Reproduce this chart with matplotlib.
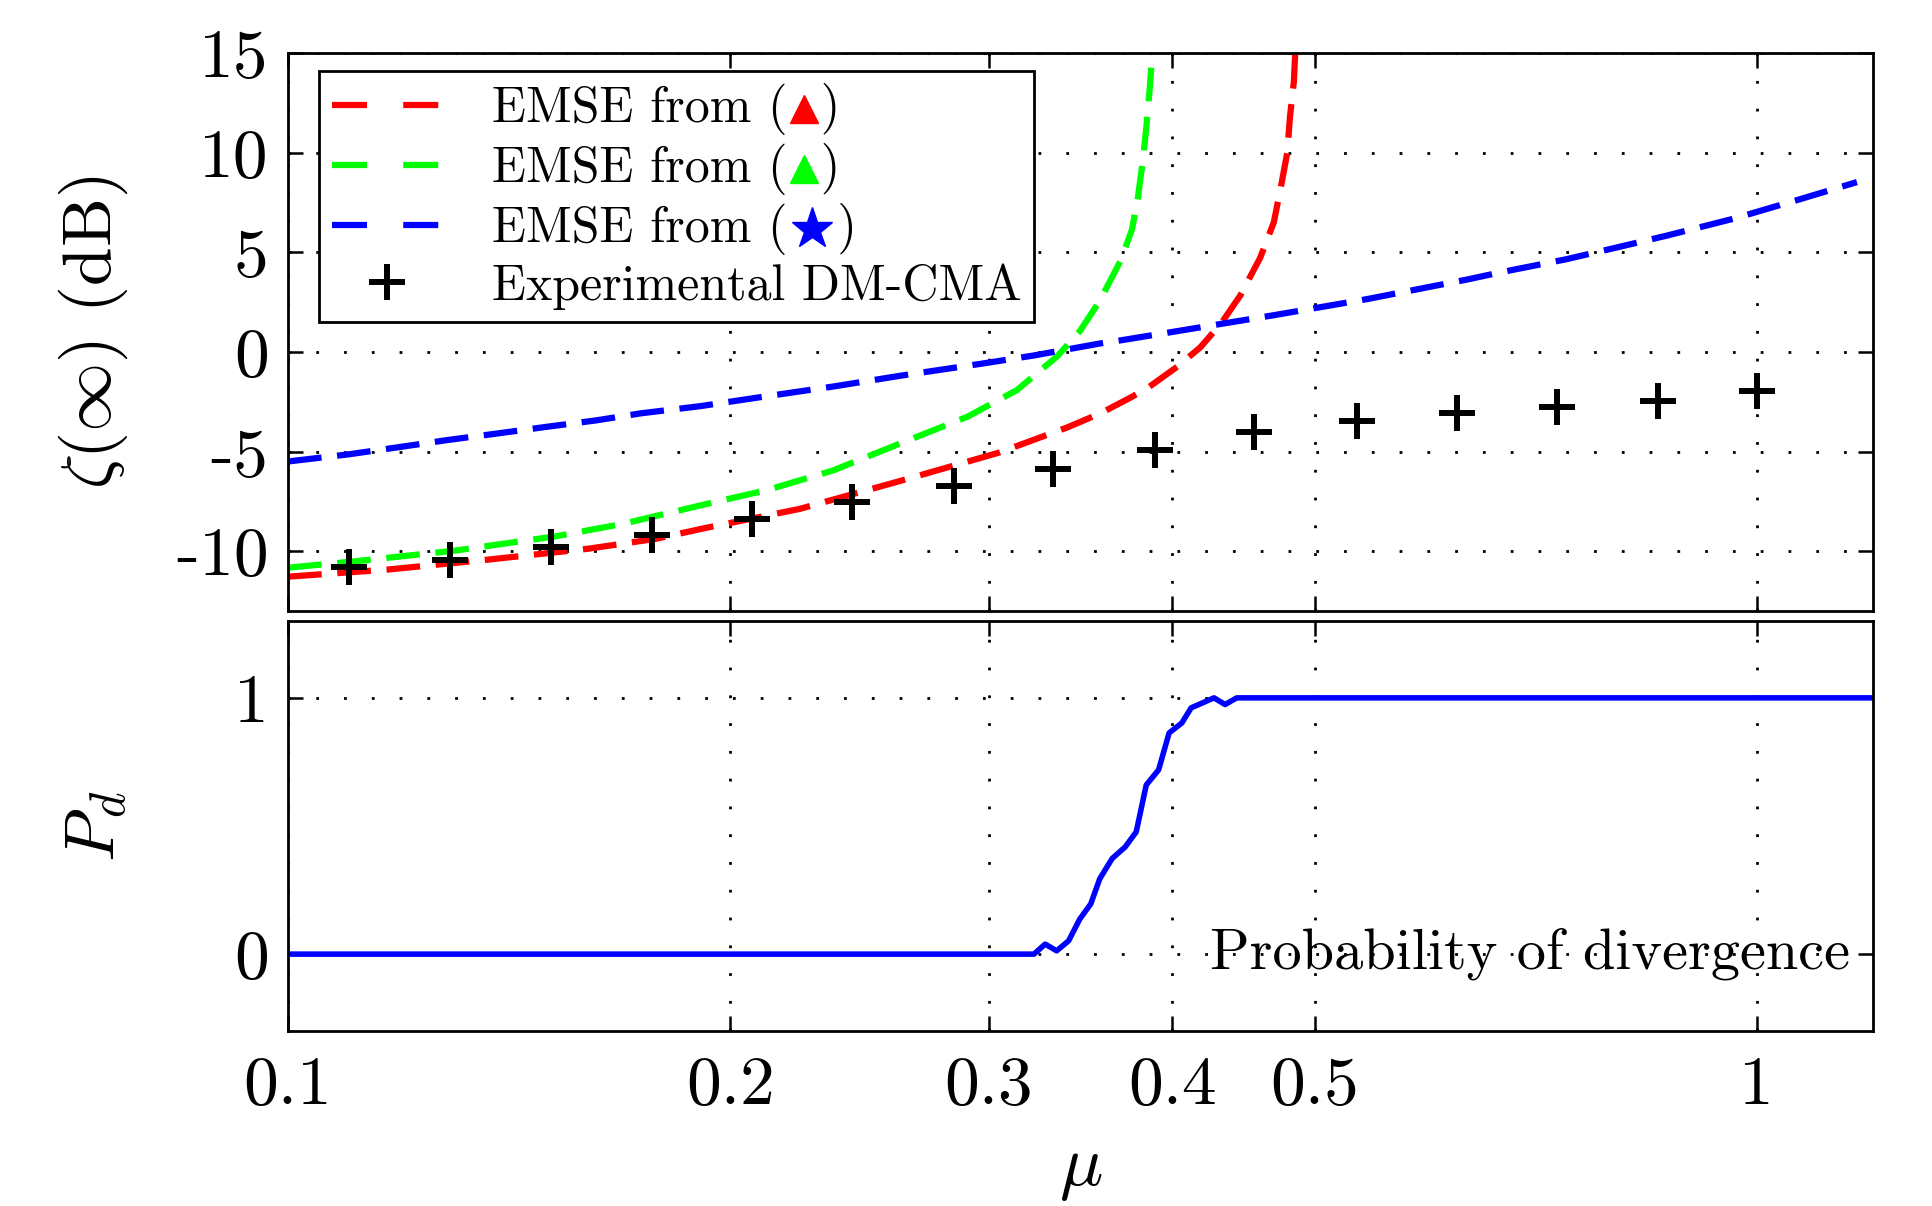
import matplotlib
matplotlib.use('Agg')
import matplotlib.pyplot as plt
from matplotlib.lines import Line2D
from matplotlib.ticker import NullLocator

plt.rcParams['font.family'] = ['cmr10', 'DejaVu Serif']
plt.rcParams['mathtext.fontset'] = 'cm'
plt.rcParams['axes.unicode_minus'] = False

# EMSE curves (mu, dB)
mu_red = [0.100, 0.117, 0.137, 0.160, 0.178, 0.192, 0.223, 0.261, 0.305, 0.339, 0.357,
          0.3745, 0.386, 0.403, 0.418, 0.432, 0.445, 0.459, 0.469, 0.474, 0.479, 0.481, 0.484, 0.485, 0.486]
emse_red = [-11.28, -10.92, -10.42, -9.88, -9.38, -8.85, -7.88, -6.48, -5.05, -3.80, -3.10,
            -2.30, -1.74, -0.75, 0.23, 1.45, 2.83, 4.71, 6.50, 8.20, 9.99, 11.78, 13.57, 15.0, 16.0]

mu_green = [0.100, 0.111, 0.130, 0.152, 0.169, 0.191, 0.212, 0.235, 0.261, 0.290, 0.3135,
            0.334, 0.346, 0.357, 0.369, 0.3755, 0.379, 0.382, 0.384, 0.386, 0.3875, 0.389]
emse_green = [-10.83, -10.51, -9.97, -9.26, -8.63, -7.70, -6.93, -5.95, -4.60, -3.26, -1.92,
              -0.22, 1.04, 2.56, 4.6, 6.14, 7.75, 9.63, 11.24, 13.12, 14.82, 16.5]

mu_blue = [0.100, 0.110, 0.119, 0.1285, 0.138, 0.150, 0.162, 0.174, 0.191, 0.212, 0.235,
           0.261, 0.298, 0.322, 0.357, 0.369, 0.403, 0.469, 0.543, 0.635, 0.669, 0.742,
           0.803, 0.868, 0.964, 1.070, 1.170]
emse_blue = [-5.50, -5.14, -4.78, -4.42, -4.12, -3.76, -3.44, -3.08, -2.72, -2.22, -1.74,
             -1.20, -0.57, -0.18, 0.42, 0.58, 1.04, 1.84, 2.65, 3.63, 3.99, 4.65,
             5.24, 5.83, 6.68, 7.66, 8.52]

# experimental DM-CMA points
mu_exp = [0.110, 0.129, 0.151, 0.177, 0.207, 0.242, 0.284, 0.332, 0.389, 0.455, 0.534,
          0.625, 0.731, 0.857, 1.000]
emse_exp = [-10.78, -10.43, -9.80, -9.18, -8.38, -7.52, -6.72, -5.87, -4.91, -4.04, -3.45,
            -3.09, -2.78, -2.45, -1.97]

# probability of divergence
mu_pd = [0.100, 0.322, 0.3277, 0.3337, 0.340, 0.346, 0.352, 0.357, 0.364, 0.3715, 0.378,
         0.384, 0.3915, 0.398, 0.406, 0.412, 0.427, 0.4345, 0.4425, 1.200]
pd = [0, 0, 0.039, 0.013, 0.052, 0.137, 0.196, 0.294, 0.373, 0.418, 0.477,
      0.660, 0.719, 0.863, 0.902, 0.961, 1.0, 0.974, 1.0, 1.0]

xticks = [0.1, 0.2, 0.3, 0.4, 0.5, 1]
xticklabels = ['0.1', '0.2', '0.3', '0.4', '0.5', '1']

fig = plt.figure(figsize=(19.33, 12.06), dpi=100)
ax1 = fig.add_axes([0.149, 0.4934, 0.82, 0.4627])
ax2 = fig.add_axes([0.149, 0.1451, 0.82, 0.340])

dash = (0, (5.4, 2.5))
ax1.plot(mu_red, emse_red, color=(1, 0, 0), lw=4.5, ls=dash, label='EMSE from (  )')
ax1.plot(mu_green, emse_green, color=(0, 1, 0), lw=4.5, ls=dash, label='EMSE from (  )')
ax1.plot(mu_blue, emse_blue, color=(0, 0, 1), lw=4.5, ls=dash, label='EMSE from (   )')
ax1.plot(mu_exp, emse_exp, ls='none', marker='+', ms=26, mew=4.3, color='k',
         label='Experimental DM-CMA')

ax2.plot(mu_pd, pd, color=(0, 0, 1), lw=4)
ax2.text(1.157, 0, 'Probability of divergence', ha='right', va='center', fontsize=42)

for ax in (ax1, ax2):
    ax.set_xscale('log')
    ax.set_xlim(0.1, 1.2)
    ax.set_xticks(xticks)
    ax.xaxis.set_minor_locator(NullLocator())
    ax.grid(True, color='k', ls=(0, (1, 9)), lw=2)
    ax.tick_params(direction='in', length=11, width=1.8, top=True, right=True,
                   labelsize=50)
    ax.tick_params(axis='x', pad=18)
    ax.tick_params(axis='y', pad=14)
    for s in ax.spines.values():
        s.set_linewidth(2)

ax1.set_xticklabels([])
ax2.set_xticklabels(xticklabels)
ax1.set_ylim(-13, 15)
ax1.set_yticks([-10, -5, 0, 5, 10, 15])
ax2.set_ylim(-0.3, 1.3)
ax2.set_yticks([0, 1])

ax1.set_ylabel(r'$\zeta(\infty)$ (dB)', fontsize=50)
ax2.set_ylabel(r'$P_d$', fontsize=50)
ax2.set_xlabel(r'$\mu$', fontsize=52)
ax1.yaxis.set_label_coords(-0.1, 0.5)
ax2.yaxis.set_label_coords(-0.1, 0.5)
ax2.xaxis.set_label_coords(0.5, -0.262)

leg = ax1.legend(loc='upper left', bbox_to_anchor=(0.0196, 0.9677), borderaxespad=0,
                 fontsize=36, fancybox=False, framealpha=1, edgecolor='k',
                 handlelength=2.2, handletextpad=1.0, borderpad=0.25,
                 labelspacing=0.16, numpoints=1)
leg.get_frame().set_linewidth(2)
for ln in leg.get_lines()[:3]:
    ln.set_linestyle((0, (5.6, 5.8)))

# coloured symbols inside the parentheses of the legend labels
fig.canvas.draw()
r = fig.canvas.get_renderer()


def text_w(s, fp):
    t = fig.text(0, 0, s, fontproperties=fp)
    w = t.get_window_extent(r).width
    t.remove()
    return w


legend_marks = [('^', (1, 0, 0), 20), ('^', (0, 1, 0), 20), ('*', (0, 0, 1), 31)]
for txt, (mk, col, ms) in zip(leg.get_texts()[:3], legend_marks):
    bb = txt.get_window_extent(r)
    fp = txt.get_fontproperties()
    s = txt.get_text()
    w_pre = text_w(s[:s.index('(') + 1], fp)
    w_close = text_w(')', fp)
    xc = bb.x0 + (w_pre + bb.width - w_close) / 2
    yc = (bb.y0 + bb.y1) / 2
    fx, fy = fig.transFigure.inverted().transform((xc, yc))
    fig.add_artist(Line2D([fx], [fy], transform=fig.transFigure, marker=mk, color=col,
                          ms=ms, ls='none', zorder=10))

fig.savefig('out.png', dpi=100)
